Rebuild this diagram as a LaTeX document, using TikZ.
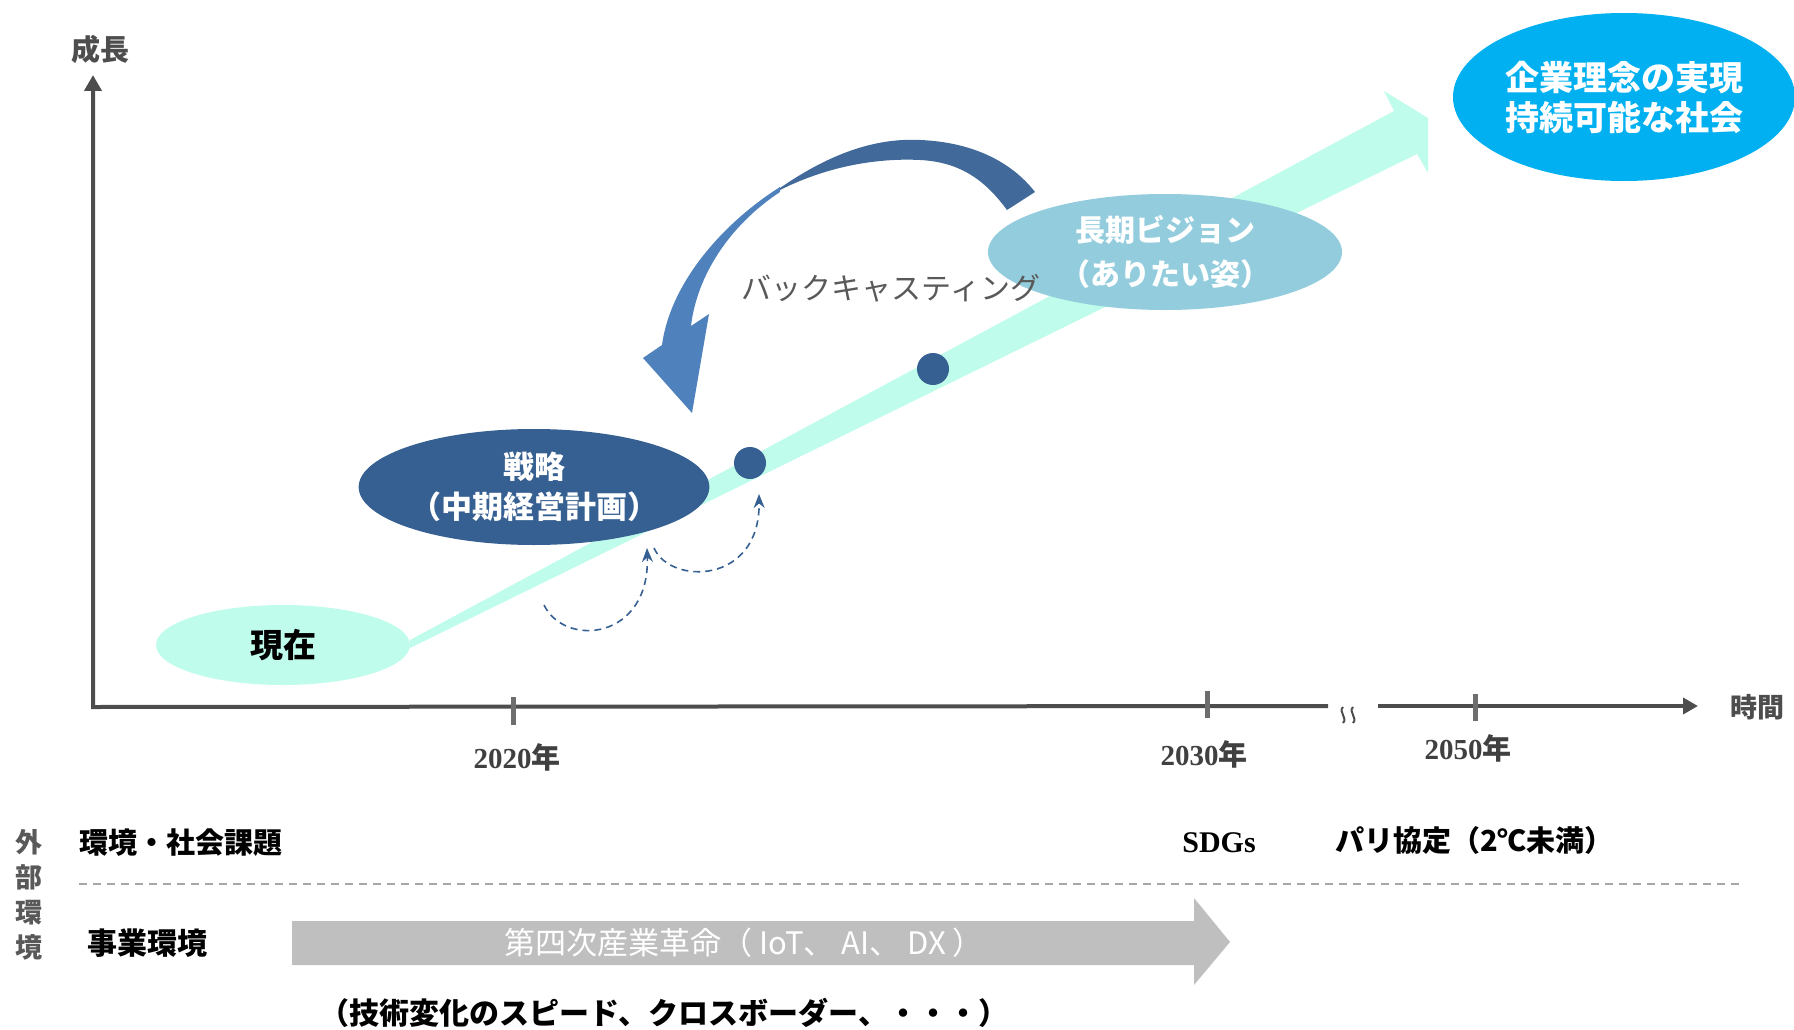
\documentclass[tikz,border=0pt]{standalone}
\usepackage{fontspec}
\setmainfont{Noto Sans CJK JP}
\newfontfamily\tnr{Liberation Serif}
\usetikzlibrary{shapes.geometric,arrows.meta}
\definecolor{axisc}{HTML}{4D4D4D}
\definecolor{tickc}{HTML}{6E6E6E}
\definecolor{mint}{HTML}{BFFCEB}
\definecolor{dblue}{HTML}{376092}
\definecolor{lblue}{HTML}{93CDDD}
\definecolor{cyanb}{HTML}{00B0F0}
\definecolor{bkdark}{HTML}{41699A}
\definecolor{bklight}{HTML}{4F81BD}
\definecolor{grayarr}{HTML}{BFBFBF}
\definecolor{dashg}{HTML}{A6A6A6}
\definecolor{txtgray}{HTML}{595959}
\definecolor{yearc}{HTML}{404040}
\newcommand\myfs[1]{\fontsize{#1pt}{#1pt}\selectfont}
\begin{document}
\begin{tikzpicture}[x=1pt,y=-1pt,
  lbl/.style={inner sep=0pt,outer sep=0pt},
  ell/.style={ellipse,inner sep=0pt,outer sep=0pt,align=center,text=white},
  axisline/.style={draw=axisc,line width=4pt},
  tickline/.style={draw=tickc,line width=5pt},
  yearlbl/.style={lbl,text=yearc,font=\bfseries\myfs{29}},
  dasharrow/.style={draw=dblue,line width=1.6pt,dash pattern=on 7pt off 5pt,-{Stealth[length=14pt,width=11pt]}},
  dot/.style={circle,fill=dblue,minimum size=32pt,inner sep=0pt}
]
\useasboundingbox (0,0) rectangle (1794,1030);

% axes
\coordinate (origin) at (93,707);
\coordinate (ytop) at (93,75);
\coordinate (xbreakL) at (1328,706);
\coordinate (xbreakR) at (1378,706);
\coordinate (xend) at (1698,706);
\draw[axisline,line join=miter,{Triangle[length=16pt,width=17pt]}-] (ytop) -- (origin) -- (xbreakL);
\draw[axisline,-{Triangle[length=15pt,width=16pt]}] (xbreakR) -- (xend);
\draw[draw=axisc,line width=2pt] (1343,707) .. controls (1338,712) and (1348,718) .. (1343,723);
\draw[draw=axisc,line width=2pt] (1353,707) .. controls (1348,712) and (1358,718) .. (1353,723);
\draw[tickline] (513,697) -- (513,725);
\draw[tickline] (1207,691) -- (1207,718);
\draw[tickline] (1475,694) -- (1475,721);
\node[lbl,text=axisc,font=\bfseries\myfs{29}] (growth) at (100,49) {成長};
\node[lbl,text=axisc,font=\bfseries\myfs{27}] (time) at (1757,707) {時間};
\node[yearlbl] (y2020) at (517,757) {{\tnr\bfseries 2020}年};
\node[yearlbl] (y2030) at (1204,754) {{\tnr\bfseries 2030}年};
\node[yearlbl] (y2050) at (1468,748) {{\tnr\bfseries 2050}年};

% growth band
\fill[mint] (410,640) -- (1394,111) -- (1384,91) -- (1428,118) -- (1428,173) -- (1417,154) -- (410,648) -- cycle;

% ellipses
\node[ell,fill=mint,text=black,minimum width=254pt,minimum height=80pt,font=\bfseries\myfs{33}] (now) at (283,645) {現在};
\node[ell,fill=dblue,minimum width=348pt,minimum height=116pt,font=\bfseries\fontsize{31pt}{40pt}\selectfont] (strategy) at (534,487) {戦略\\（中期経営計画）};
\node[dot] (dot1) at (750,463) {};
\node[dot] (dot2) at (933,369) {};
\node[ell,fill=lblue,minimum width=354pt,minimum height=116pt,font=\bfseries\fontsize{30pt}{44pt}\selectfont] (vision) at (1165,252) {長期ビジョン\\（ありたい姿）};
\node[ell,fill=cyanb,minimum width=342pt,minimum height=168pt,font=\bfseries\fontsize{34pt}{40pt}\selectfont] (goal) at (1624,97) {企業理念の実現\\持続可能な社会};

% backcasting arrow
\fill[bkdark] (780,188) .. controls (835,150) and (880,138) .. (920,140)
  .. controls (970,142) and (1010,160) .. (1035,192) -- (1007,210)
  .. controls (985,180) and (960,162) .. (920,160)
  .. controls (880,158) and (830,165) .. (780,190) -- cycle;
\fill[bklight] (780,187) .. controls (720,225) and (670,285) .. (662,345)
  -- (643,358) -- (692,413) -- (709,314) -- (691,326)
  .. controls (697,275) and (730,225) .. (780,192) -- cycle;
\node[lbl,text=txtgray,font=\myfs{30}] (backcast) at (891,288) {バックキャスティング};

% dashed small arrows
\coordinate (d1s) at (544,605);
\coordinate (d1e) at (647,548);
\coordinate (d2s) at (654,548);
\coordinate (d2e) at (759,494);
\draw[dasharrow] (d1s) .. controls (565,648) and (650,640) .. (d1e);
\draw[dasharrow] (d2s) .. controls (670,585) and (760,585) .. (d2e);

% bottom section
\node[lbl,text=txtgray,font=\bfseries\fontsize{27pt}{35pt}\selectfont,align=center] (gaibu) at (29,895) {外\\部\\環\\境};
\node[lbl,anchor=west,font=\bfseries\myfs{29}] (social) at (79,843) {環境・社会課題};
\node[lbl,font=\tnr\bfseries\myfs{30}] (sdgs) at (1219,843) {SDGs};
\node[lbl,anchor=west,font=\bfseries\myfs{29}] (paris) at (1335,840) {パリ協定（2℃未満）};
\coordinate (dlL) at (79,884);
\coordinate (dlR) at (1741,884);
\draw[draw=dashg,line width=2pt,dash pattern=on 8pt off 6pt] (dlL) -- (dlR);
\node[lbl,anchor=west,font=\bfseries\myfs{30}] (business) at (87,943) {事業環境};
\fill[grayarr] (292,921) -- (1194,921) -- (1194,898) -- (1230,942) -- (1194,985) -- (1194,965) -- (292,965) -- cycle;
\node[lbl,text=white,font=\myfs{31}] (industry) at (744,943) {第四次産業革命（ IoT、 AI、 DX ）};
\node[lbl,font=\bfseries\myfs{30}] (tech) at (664,1013) {（技術変化のスピード、クロスボーダー、・・・）};
\end{tikzpicture}
\end{document}
